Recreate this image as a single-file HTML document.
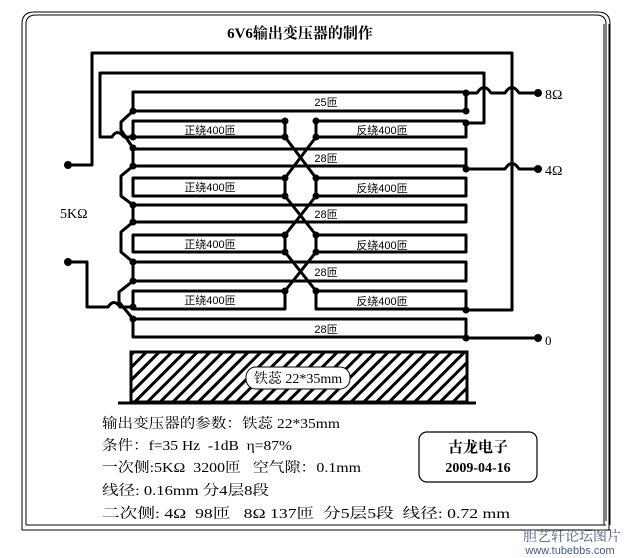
<!DOCTYPE html>
<html><head><meta charset="utf-8"><style>
html,body{margin:0;padding:0;background:#fff}
svg{display:block}
text{font-family:"Liberation Serif","Noto Serif CJK SC","Noto Sans CJK SC",serif;fill:#000;white-space:pre}
.s{font-family:"Liberation Sans","Noto Sans CJK SC",sans-serif}
</style></head><body>
<svg width="636" height="558" viewBox="0 0 636 558" xmlns="http://www.w3.org/2000/svg">
<defs>
<pattern id="h" width="9" height="9" patternUnits="userSpaceOnUse" patternTransform="rotate(45)">
<rect width="9" height="9" fill="#fff"/><rect width="3" height="9" fill="#000"/>
</pattern>
</defs>
<!-- frame -->
<path d="M22,24 Q22,12 34,12 L598,12 Q610,12 610,24 L610,525" fill="none" stroke="#000" stroke-width="1"/>
<path d="M26,24 Q26,15 36,15 L596,15 Q606,15 606,24 L606,521" fill="none" stroke="#000" stroke-width="1"/>
<line x1="22" y1="24" x2="22" y2="530" stroke="#000"/>
<line x1="26" y1="24" x2="26" y2="525" stroke="#000"/>
<line x1="22" y1="530" x2="610" y2="530" stroke="#000"/>
<line x1="26" y1="525" x2="606" y2="525" stroke="#000"/>
<line x1="604" y1="24" x2="604" y2="525" stroke="#000"/>
<line x1="609" y1="24" x2="609" y2="530" stroke="#000"/>
<text x="300" y="38" font-size="15" font-weight="bold" text-anchor="middle">6V6输出变压器的制作</text>
<g fill="none" stroke="#000" stroke-width="3" stroke-linejoin="round">
<rect x="133" y="92" width="333" height="19"/>
<rect x="133" y="121" width="152" height="16"/><rect x="316" y="121" width="150" height="16"/>
<rect x="133" y="149" width="333" height="17"/>
<rect x="133" y="178" width="152" height="18"/><rect x="316" y="178" width="150" height="18"/>
<rect x="133" y="205" width="333" height="17"/>
<rect x="133" y="235" width="152" height="17"/><rect x="316" y="235" width="150" height="17"/>
<rect x="133" y="262" width="333" height="19"/>
<rect x="133" y="291" width="152" height="18"/><rect x="316" y="291" width="150" height="18"/>
<rect x="133" y="319" width="333" height="18"/>
<path d="M285,137 L316,178 M316,137 L285,178 M285,196 L316,235 M316,196 L285,235 M285,252 L316,291 M316,252 L285,291"/>
<path d="M133,111 L121,122 L121,130 L133,148"/>
<path d="M133,166 L121,176 L121,196 L133,205"/>
<path d="M133,222 L121,232 L121,252 L133,262"/>
<path d="M133,281 L119,292 L119,302 L133,319"/>
<path d="M68,165 L92,165 L92,53 L512,53 L512,310 L466,310"/>
<path d="M133,137 L124,137 Q117,128 112,137 L100,137 L100,73 L484,73 L484,123 L466,123"/>
<path d="M68,262 L87,262 L87,307 L108,307 Q114,298 120,307 L133,307"/>
<path d="M466,93 L477,93 Q484,82 491,93 L505,93 Q512,82 519,93 L538,93"/>
<path d="M466,169 L505,169 Q512,158 519,169 L538,169"/>
<path d="M466,338 L538,338"/>
</g>
<g fill="#000">
<circle cx="68" cy="165" r="4"/><circle cx="68" cy="262" r="4"/>
<circle cx="538" cy="93" r="4"/><circle cx="538" cy="169" r="4"/><circle cx="538" cy="338" r="4"/>
<circle cx="466" cy="93" r="3.5"/><circle cx="466" cy="111" r="3.5"/><circle cx="466" cy="123" r="3.5"/><circle cx="466" cy="169" r="3.5"/><circle cx="466" cy="310" r="3.5"/><circle cx="466" cy="338" r="3.5"/>
<circle cx="133" cy="111" r="3.5"/><circle cx="133" cy="137" r="3.5"/><circle cx="133" cy="148" r="3.5"/><circle cx="133" cy="166" r="3.5"/><circle cx="133" cy="205" r="3.5"/><circle cx="133" cy="222" r="3.5"/><circle cx="133" cy="262" r="3.5"/><circle cx="133" cy="281" r="3.5"/><circle cx="133" cy="307" r="3.5"/><circle cx="133" cy="319" r="3.5"/>
<circle cx="285" cy="121" r="3.5"/><circle cx="285" cy="137" r="3.5"/><circle cx="316" cy="121" r="3.5"/><circle cx="316" cy="137" r="3.5"/>
<circle cx="285" cy="178" r="3.5"/><circle cx="285" cy="196" r="3.5"/><circle cx="316" cy="178" r="3.5"/><circle cx="316" cy="196" r="3.5"/>
<circle cx="285" cy="235" r="3.5"/><circle cx="285" cy="252" r="3.5"/><circle cx="316" cy="235" r="3.5"/><circle cx="316" cy="252" r="3.5"/>
<circle cx="285" cy="291" r="3.5"/><circle cx="316" cy="291" r="3.5"/>
</g>
<g font-size="11">
<text class="s" x="326" y="106" text-anchor="middle">25匝</text>
<text class="s" x="326" y="162" text-anchor="middle">28匝</text>
<text class="s" x="326" y="218" text-anchor="middle">28匝</text>
<text class="s" x="326" y="276" text-anchor="middle">28匝</text>
<text class="s" x="326" y="333" text-anchor="middle">28匝</text>
<text class="s" x="210" y="134" text-anchor="middle">正绕400匝</text>
<text class="s" x="210" y="191" text-anchor="middle">正绕400匝</text>
<text class="s" x="210" y="248" text-anchor="middle">正绕400匝</text>
<text class="s" x="210" y="304" text-anchor="middle">正绕400匝</text>
<text class="s" x="382" y="134" text-anchor="middle">反绕400匝</text>
<text class="s" x="382" y="192" text-anchor="middle">反绕400匝</text>
<text class="s" x="382" y="249" text-anchor="middle">反绕400匝</text>
<text class="s" x="382" y="305" text-anchor="middle">反绕400匝</text>
</g>
<text x="545" y="99" font-size="14">8Ω</text>
<text x="545" y="175" font-size="14">4Ω</text>
<text x="545" y="345" font-size="13">0</text>
<text x="60" y="218" font-size="14">5KΩ</text>
<rect x="131" y="352" width="336" height="50" fill="url(#h)" stroke="#000" stroke-width="3"/>
<line x1="118" y1="403" x2="476" y2="403" stroke="#000" stroke-width="3"/>
<rect x="246" y="367" width="104" height="22" rx="10" fill="#fff" stroke="#000" stroke-width="1"/>
<text x="298" y="383" font-size="14" text-anchor="middle">铁蕊 22*35mm</text>
<g font-size="14">
<text x="102" y="428" textLength="238" lengthAdjust="spacingAndGlyphs">输出变压器的参数：铁蕊 22*35mm</text>
<text x="102" y="450" textLength="190" lengthAdjust="spacingAndGlyphs">条件：f=35 Hz  -1dB  η=87%</text>
<text x="102" y="472" textLength="259" lengthAdjust="spacingAndGlyphs">一次侧:5KΩ  3200匝   空气隙：0.1mm</text>
<text x="102" y="495" textLength="167" lengthAdjust="spacingAndGlyphs">线径: 0.16mm 分4层8段</text>
<text x="102" y="518" textLength="408" lengthAdjust="spacingAndGlyphs">二次侧: 4Ω  98匝   8Ω 137匝  分5层5段  线径: 0.72 mm</text>
</g>
<rect x="419" y="432" width="118" height="50" rx="8" fill="none" stroke="#000" stroke-width="1.2"/>
<text x="478" y="452" font-size="15" font-weight="bold" text-anchor="middle">古龙电子</text>
<text x="478" y="472" font-size="14" font-weight="bold" text-anchor="middle">2009-04-16</text>
<text x="572" y="541" font-size="14" text-anchor="middle" style="fill:#4a5a80">胆艺轩论坛图片</text>
<text x="570" y="554" font-size="11" text-anchor="middle" style="fill:#4a5a80" class="s">www.tubebbs.com</text>
</svg>
</body></html>
